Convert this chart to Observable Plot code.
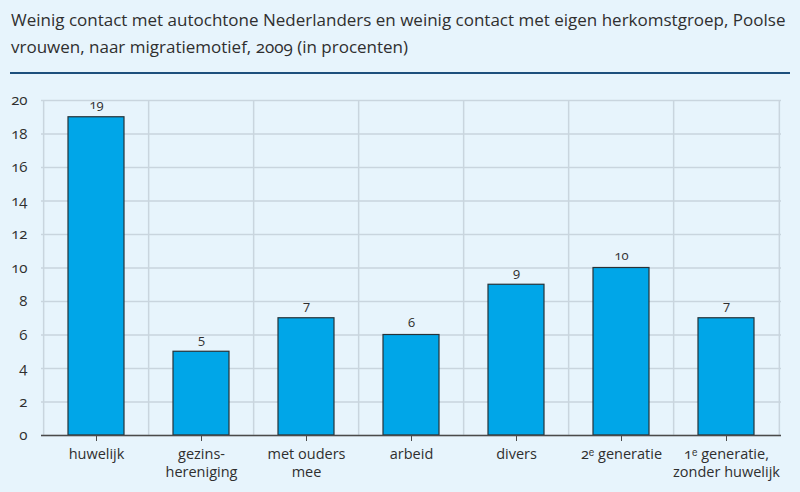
<!DOCTYPE html>
<html>
<head>
<meta charset="utf-8">
<script src="https://cdn.jsdelivr.net/npm/d3@7"></script>
<script src="https://cdn.jsdelivr.net/npm/@observablehq/plot@0.6"></script>
<style>
  html, body { margin: 0; padding: 0; }
  body { width: 800px; height: 492px; background: #e7f4fc; position: relative; overflow: hidden;
         font-family: "Open Sans", sans-serif; color: #2f2f2f; font-variant-numeric: oldstyle-nums; font-feature-settings: "onum" 1; }
  #title { position: absolute; left: 11px; top: 6px; width: 790px; font-size: 17px; line-height: 27px; white-space: nowrap; }
  #rule { position: absolute; left: 10px; top: 72px; width: 780px; height: 1.5px; background: #1d4f7c; }
  #chart { position: absolute; left: 0; top: 80px; }
  #chart text { font-feature-settings: "onum" 1; }
</style>
</head>
<body>
<div id="title">Weinig contact met autochtone Nederlanders en weinig contact met eigen herkomstgroep, Poolse<br>vrouwen, naar migratiemotief, 2009 (in procenten)</div>
<div id="rule"></div>
<div id="chart"></div>
<script>
const categories = ["huwelijk", "gezins-\nhereniging", "met ouders\nmee", "arbeid", "divers", "2ᵉ generatie", "1ᵉ generatie,\nzonder huwelijk"];
const values = [19, 5, 7, 6, 9, 10, 7];
const yTicks = [0, 2, 4, 6, 8, 10, 12, 14, 16, 18, 20];

const data = categories.map((c, i) => ({cat: c, val: values[i]}));

const W = 800, H = 412;
const mL = 41, mR = 19, mT = 20, mB = 57;
const step = (W - mL - mR) / categories.length;
const gridColor = "#c9d5de";
const fv = "oldstyle-nums";

const plot = Plot.plot({
  width: W, height: H,
  marginLeft: mL, marginRight: mR, marginTop: mT, marginBottom: mB,
  style: {background: "transparent", fontFamily: "'Open Sans', sans-serif", color: "#2f2f2f", fontVariantNumeric: fv},
  x: {domain: categories, paddingInner: 0.47, paddingOuter: 0.235, label: null},
  y: {domain: [0, 20], ticks: yTicks, label: null},
  marks: [
    Plot.ruleY(yTicks, {stroke: gridColor, strokeWidth: 1.5}),
    Plot.ruleX(categories, {x: d => d, dx: -step / 2, stroke: gridColor, strokeWidth: 1.5, y1: 0, y2: 20}),
    Plot.ruleX(categories.slice(-1), {x: d => d, dx: step / 2, stroke: gridColor, strokeWidth: 1.5, y1: 0, y2: 20}),
    Plot.barY(data, {x: "cat", y: "val", fill: "#00a6e8", stroke: "#263238", strokeWidth: 1.2}),
    Plot.text(data, {x: "cat", y: "val", text: d => String(d.val), dy: -12, fontSize: 13, fill: "#2f2f2f", fontVariant: fv}),
    Plot.ruleY([0], {stroke: "#4a4a4a", strokeWidth: 1.5}),
    Plot.axisY({ticks: yTicks, tickSize: 0, tickPadding: 14, fontSize: 15, label: null, fontVariant: fv}),
    Plot.axisX({tickSize: 6, tickPadding: 5, fontSize: 14.5, lineHeight: 1.25, label: null, stroke: "#4a4a4a", fontVariant: fv})
  ]
});
document.getElementById("chart").appendChild(plot);
</script>
</body>
</html>
